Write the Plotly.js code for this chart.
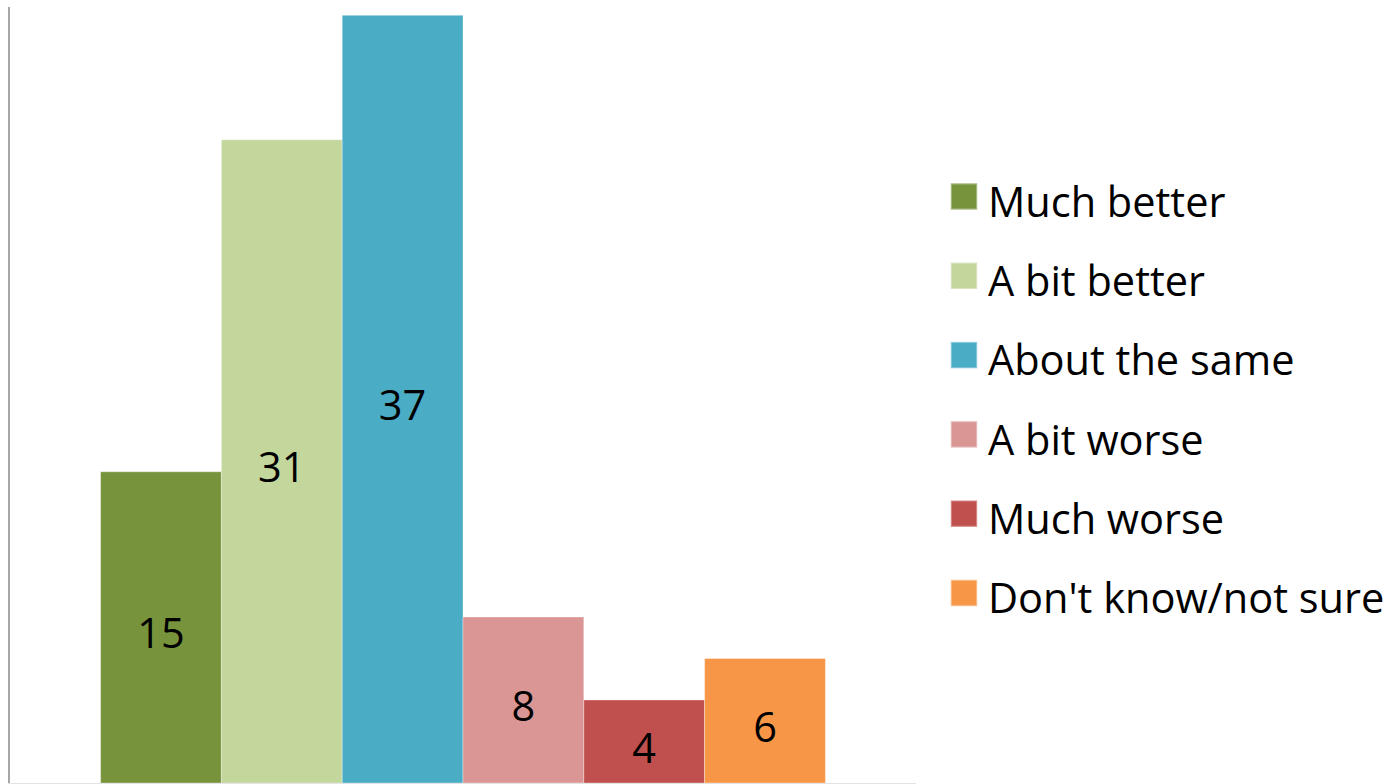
<!DOCTYPE html>
<html>
<head>
<meta charset="utf-8">
<script src="https://cdn.plot.ly/plotly-3.0.1.min.js"></script>
<style>
  html, body { margin: 0; padding: 0; background: #ffffff; }
  #chart { width: 1397px; height: 784px; }
  #chart .legend .legendpoints path { scale: 2.2; translate: -28px -4px; }
  #chart .bartext { translate: 0 5px; }
</style>
</head>
<body>
<div id="chart"></div>
<script>
const categories = ["Much better", "A bit better", "About the same", "A bit worse", "Much worse", "Don't know/not sure"];
const values = [15, 31, 37, 8, 4, 6];
const colors = ["#77933C", "#C3D69B", "#4BACC6", "#D99694", "#C0504D", "#F79646"];
const group = ["All"];

const FONT = "'Open Sans', Lato, sans-serif";

const traces = categories.map((name, i) => ({
  type: "bar",
  x: group,
  y: [values[i]],
  name: name,
  legendgroup: "g" + i,
  text: [String(values[i])],
  textposition: "inside",
  insidetextanchor: "middle",
  textangle: 0,
  insidetextfont: { family: FONT, size: 41.5, color: "#000000" },
  marker: { color: colors[i], line: { width: 1, color: "rgba(255,255,255,0.35)" } },
  hoverinfo: "name+y"
}));

const layout = {
  width: 1397,
  height: 784,
  margin: { l: 10, r: 481, t: 7, b: 1, pad: 0 },
  paper_bgcolor: "#ffffff",
  plot_bgcolor: "#ffffff",
  barmode: "group",
  bargap: 0.2,
  bargroupgap: 0,
  font: { family: FONT, size: 41.5, color: "#000000" },
  showlegend: true,
  legend: {
    x: 1.0353,
    xanchor: "left",
    y: 0.7938,
    yanchor: "top",
    font: { family: FONT, size: 41.5, color: "#000000" },
    tracegroupgap: 22.35,
    bgcolor: "rgba(0,0,0,0)",
    borderwidth: 0
  },
  xaxis: {
    type: "category",
    showticklabels: false,
    ticks: "",
    showgrid: false,
    zeroline: false,
    showline: true,
    linecolor: "#e3e3e3",
    linewidth: 2
  },
  yaxis: {
    range: [0, 37.4],
    showticklabels: false,
    ticks: "",
    showgrid: false,
    zeroline: false,
    showline: true,
    linecolor: "#a6a6a6",
    linewidth: 2
  }
};

Plotly.newPlot("chart", traces, layout, { displayModeBar: false, staticPlot: true });
</script>
</body>
</html>
